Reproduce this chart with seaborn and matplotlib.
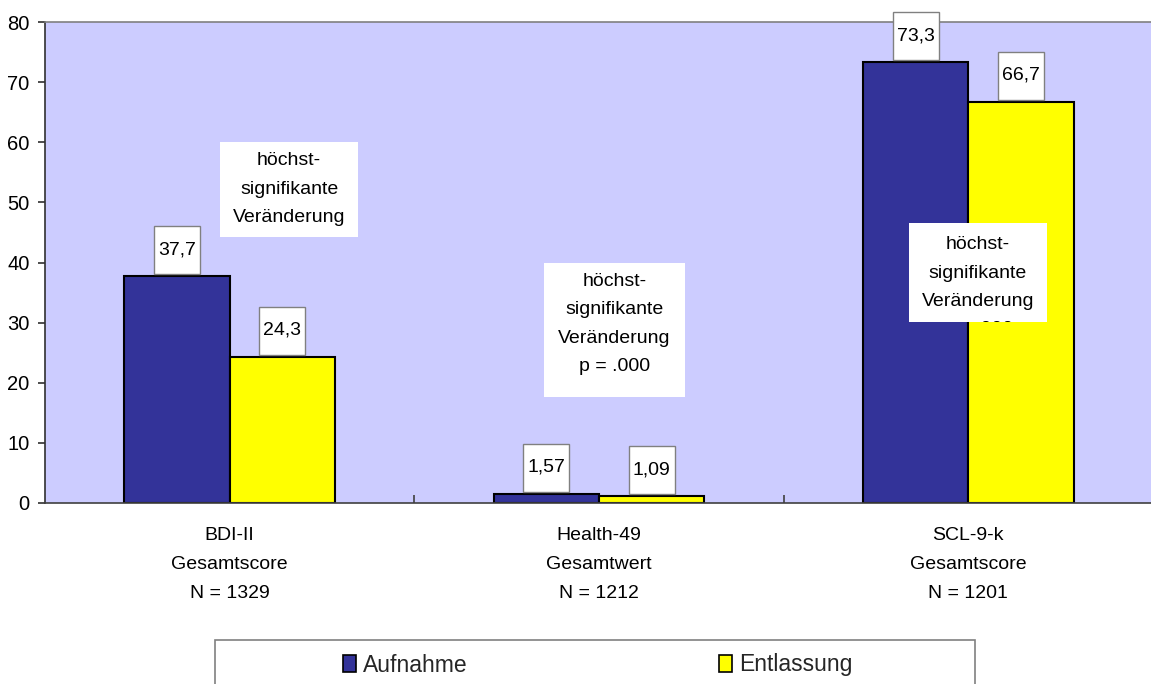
import numpy as np
import pandas as pd
import matplotlib
matplotlib.use("Agg")
import matplotlib.pyplot as plt
import seaborn as sns
from matplotlib.patches import Rectangle, Patch
from matplotlib.transforms import ScaledTranslation

# ---------------- data ----------------
categories = ["BDI-II\nGesamtscore\nN = 1329",
              "Health-49\nGesamtwert\nN = 1212",
              "SCL-9-k\nGesamtscore\nN = 1201"]
series = ["Aufnahme", "Entlassung"]
aufnahme = [37.7, 1.57, 73.3]
entlassung = [24.3, 1.09, 66.7]
labels_aufnahme = ["37,7", "1,57", "73,3"]
labels_entlassung = ["24,3", "1,09", "66,7"]
yticks = [0, 10, 20, 30, 40, 50, 60, 70, 80]
colors = ["#333399", "#FFFF00"]
notes = ["höchst-\nsignifikante\nVeränderung",
         "höchst-\nsignifikante\nVeränderung\np = .000",
         "höchst-\nsignifikante\nVeränderung\np = .000"]

df = pd.DataFrame({
    "Kategorie": categories * 2,
    "Zeitpunkt": [series[0]] * len(categories) + [series[1]] * len(categories),
    "Wert": aufnahme + entlassung,
})

sns.set_theme(style="white")
plt.rcParams['font.family'] = ['Liberation Sans', 'DejaVu Sans']

W, H = 1151, 684
fig = plt.figure(figsize=(W / 100, H / 100), dpi=100)
fig.patch.set_facecolor("white")
ax = fig.add_axes([45 / W, 181 / H, 1108 / W, 481 / H])

sns.barplot(data=df, x="Kategorie", y="Wert", hue="Zeitpunkt",
            palette=colors, saturation=1, width=0.57, gap=0,
            edgecolor="black", linewidth=1.5, ax=ax, legend=False,
            errorbar=None)

ax.set_facecolor("#CCCCFF")
ax.set_xlim(-0.5, 2.5)
ax.set_ylim(0, 80)
ax.set_yticks(yticks)
ax.set_yticklabels([str(v) for v in yticks])
ax.set_xlabel("")
ax.set_ylabel("")

for s in ["left", "top", "bottom"]:
    ax.spines[s].set_visible(True)
    ax.spines[s].set_linewidth(1.2)
ax.spines["left"].set_color("#303030")
ax.spines["bottom"].set_color("#404040")
ax.spines["top"].set_color("#808080")
ax.spines["right"].set_visible(False)

ax.tick_params(axis="y", direction="out", length=5, width=1.2, color="#303030",
               labelsize=14.5, pad=6, labelcolor="black", left=True)
ax.tick_params(axis="x", which="major", length=0, labelsize=14, pad=17,
               labelcolor="black")
ax.set_xticks([0.5, 1.5], minor=True)
ax.tick_params(axis="x", which="minor", direction="in", length=6, width=1.2,
               color="#404040", bottom=True)
for lbl in ax.get_xticklabels():
    lbl.set_linespacing(1.95)

# value label boxes
for container, labs in zip(ax.containers, [labels_aufnahme, labels_entlassung]):
    for bar, lab in zip(container, labs):
        cx = bar.get_x() + bar.get_width() / 2
        top = bar.get_height()
        tr = fig.dpi_scale_trans + ScaledTranslation(cx, top, ax.transData)
        rect = Rectangle((-0.23, 0.02), 0.46, 0.48, transform=tr,
                         facecolor="white", edgecolor="#808080", lw=1,
                         clip_on=False, zorder=5)
        ax.add_patch(rect)
        ax.text(0, 0.265, lab, transform=tr, ha="center", va="center",
                fontsize=14, color="black", zorder=6, clip_on=False)

# annotation boxes (position in data coords, size in inches, text offset)
note_pos = [(0.161, 52.1, 1.38, 0.95, 0.005),
            (1.042, 28.8, 1.41, 1.34, 0.06),
            (2.026, 38.3, 1.38, 0.99, -0.145)]
for txt, (xd, yd, w, h, dy) in zip(notes, note_pos):
    tr = fig.dpi_scale_trans + ScaledTranslation(xd, yd, ax.transData)
    rect = Rectangle((-w / 2, -h / 2), w, h, transform=tr, facecolor="white",
                     edgecolor="none", clip_on=False, zorder=5)
    ax.add_patch(rect)
    t = ax.text(0, dy, txt, transform=tr, ha="center", va="center",
                fontsize=14, color="black", linespacing=1.88, zorder=6,
                clip_on=True)
    t.set_clip_path(rect)

# legend box
fig.add_artist(Rectangle((215 / W, -0.02), (975 - 215) / W, (684 - 640) / H + 0.02,
                         transform=fig.transFigure, facecolor="white",
                         edgecolor="#808080", lw=1.2))
handles = [Patch(facecolor=c, edgecolor="black", lw=1.2) for c in colors]
fig.legend(handles, series, loc="center left",
           bbox_to_anchor=(343 / W, 1 - 665 / H), ncol=2, frameon=False,
           fontsize=16.5, handlelength=0.55, handleheight=0.75,
           handletextpad=0.3, columnspacing=11.0, borderpad=0,
           borderaxespad=0)

fig.savefig("out.png", dpi=100)
